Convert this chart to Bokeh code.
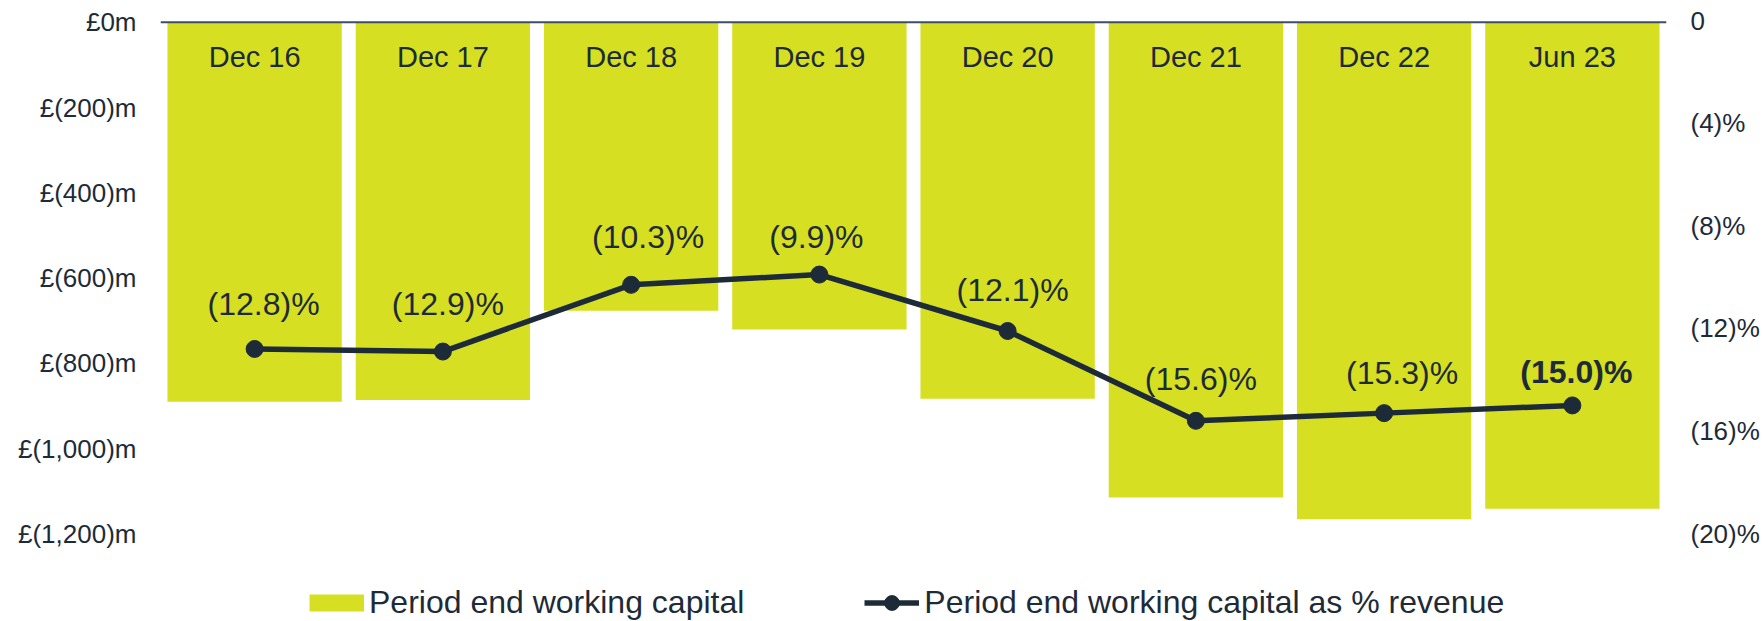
from bokeh.plotting import figure
from bokeh.models import (ColumnDataSource, FactorRange, Range1d, LinearAxis, FixedTicker,
                          Span, Legend, LegendItem)
from bokeh.core.properties import value
from bokeh.embed import file_html
from bokeh.resources import INLINE

# ---- data ----
periods = ["Dec 16", "Dec 17", "Dec 18", "Dec 19", "Dec 20", "Dec 21", "Dec 22", "Jun 23"]
working_capital_m = [-890, -886, -677, -721, -883, -1115, -1166, -1141]
wc_pct_revenue = [-12.8, -12.9, -10.3, -9.9, -12.1, -15.6, -15.3, -15.0]
left_ticks = [0, -200, -400, -600, -800, -1000, -1200]
left_tick_labels = ["£0m", "£(200)m", "£(400)m", "£(600)m", "£(800)m", "£(1,000)m", "£(1,200)m"]
right_ticks = [0, -4, -8, -12, -16, -20]
right_tick_labels = ["0", "(4)%", "(8)%", "(12)%", "(16)%", "(20)%"]
series_names = ["Period end working capital", "Period end working capital as % revenue"]

# ---- style ----
BAR = "#d6df22"
NAVY = "#1d2b38"
AXIS_LINE = "#3f4e66"
FONT = "Liberation Sans"
label_dx = [9, 5, 17, -3, 5, 5, 18, 4]          # screen px nudges of the % labels
label_dy = [-45, -48, -48, -38, -41, -42, -40, -33]
label_style = ["normal"] * 7 + ["bold"]

pct_labels = ["({:.1f})%".format(abs(v)) for v in wc_pct_revenue]

src = ColumnDataSource(dict(
    period=periods, wc=working_capital_m, pct=wc_pct_revenue,
    pct_label=pct_labels, dx=label_dx, dy=label_dy, style=label_style,
))

p = figure(width=1764, height=621,
           x_range=FactorRange(factors=periods, range_padding=0),
           y_range=Range1d(-1405.8, 6.57),
           output_backend="svg", toolbar_location=None,
           min_border_left=160, min_border_right=98, min_border_top=19, min_border_bottom=0)
p.extra_y_ranges = {"pct": Range1d(-23.42, 0.039)}

p.outline_line_color = None
p.xgrid.visible = False
p.ygrid.visible = False
p.xaxis.visible = False

# left axis
yax = p.yaxis[0]
yax.ticker = FixedTicker(ticks=left_ticks)
yax.major_label_overrides = {t: l for t, l in zip(left_ticks, left_tick_labels)}
yax.axis_line_color = None
yax.major_tick_line_color = None
yax.minor_tick_line_color = None
yax.major_tick_out = 0
yax.major_tick_in = 0
yax.minor_tick_out = 0
yax.major_label_standoff = 24
yax.major_label_text_font = FONT
yax.major_label_text_font_size = "26px"
yax.major_label_text_color = NAVY

# right axis (shares the range of the % line)
rax = LinearAxis(y_range_name="pct", ticker=FixedTicker(ticks=right_ticks))
rax.major_label_overrides = {t: l for t, l in zip(right_ticks, right_tick_labels)}
rax.axis_line_color = None
rax.major_tick_line_color = None
rax.minor_tick_line_color = None
rax.major_tick_out = 0
rax.major_tick_in = 0
rax.minor_tick_out = 0
rax.major_label_standoff = 24
rax.major_label_text_font = FONT
rax.major_label_text_font_size = "26px"
rax.major_label_text_color = NAVY
p.add_layout(rax, "right")

bars = p.vbar(x="period", top=0, bottom="wc", width=0.926, source=src,
              fill_color=BAR, line_color=None)
ln = p.line(x="period", y="pct", y_range_name="pct", source=src,
            line_color=NAVY, line_width=5.5)
pts = p.scatter(x="period", y="pct", y_range_name="pct", source=src,
                size=17, fill_color=NAVY, line_color=NAVY)

p.text(x="period", y=0, text="period", source=src, y_offset=35,
       text_align="center", text_baseline="middle",
       text_font=value(FONT), text_font_size="29px", text_color=NAVY)

p.text(x="period", y="pct", y_range_name="pct", text="pct_label", source=src,
       x_offset="dx", y_offset="dy", text_font_style="style",
       text_align="center", text_baseline="middle",
       text_font=value(FONT), text_font_size="32px", text_color=NAVY)

p.add_layout(Span(location=0, dimension="width", line_color=AXIS_LINE, line_width=2))

# legend key for the bars: a thick swatch stroke that draws nothing in the plot
bar_key = p.line(x=[periods[0]], y=[float("nan")], line_color=BAR, line_width=17,
                 line_cap="butt")

legend = Legend(items=[LegendItem(label=series_names[0], renderers=[bar_key]),
                       LegendItem(label=series_names[1], renderers=[ln, pts])],
                orientation="horizontal", location=(149, 0),
                padding=0, margin=0, spacing=120,
                glyph_width=55, glyph_height=37, label_standoff=5,
                label_text_font=FONT, label_text_font_size="32px",
                label_text_color=NAVY,
                border_line_alpha=0, background_fill_alpha=0)
p.add_layout(legend)

open("out.html", "w").write(file_html(p, INLINE))
